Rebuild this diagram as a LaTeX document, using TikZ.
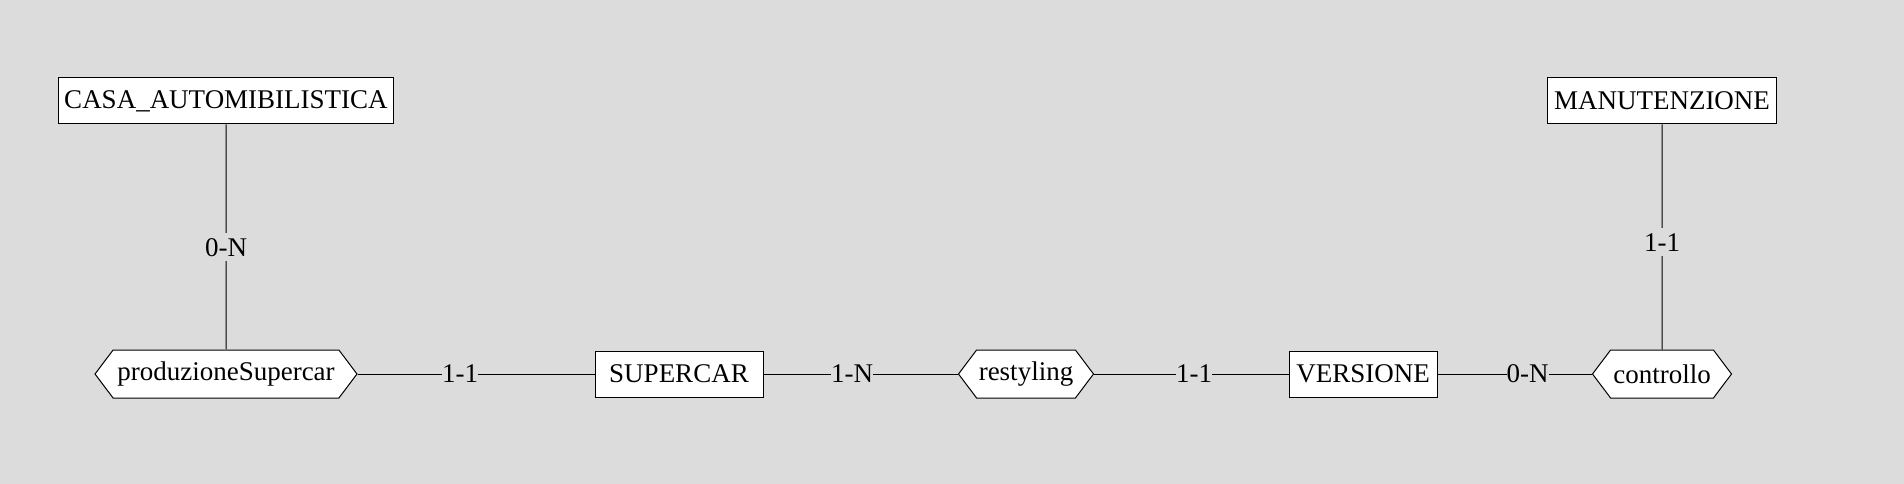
\documentclass[tikz,border=0pt]{standalone}
\usepackage{fontspec}
\setmainfont{Liberation Serif}
\usetikzlibrary{shapes.symbols}
\definecolor{bggray}{RGB}{220,220,220}
\tikzset{
  entity/.style={draw=black, fill=white, line width=1pt, rectangle, minimum height=46pt, inner sep=0pt, font=\fontsize{27}{32}\selectfont},
  relation/.style={draw=black, fill=white, line width=1pt, signal, signal to=west and east, signal pointer angle=106, minimum height=48pt, inner sep=0pt, font=\fontsize{27}{32}\selectfont},
  card/.style={fill=bggray, inner xsep=0pt, inner ysep=5pt, font=\fontsize{27}{32}\selectfont},
  link/.style={line width=1pt, draw=black}
}
\begin{document}
\begin{tikzpicture}[x=1pt,y=-1pt]
\fill[bggray] (0,0) rectangle (1904,484);
\useasboundingbox (0,0) rectangle (1904,484);

\node[entity, minimum width=335pt] (casa) at (226,101) {CASA\_AUTOMIBILISTICA};
\node[entity, minimum width=229pt] (manut) at (1662,101) {MANUTENZIONE};
\node[entity, minimum width=168pt] (supercar) at (679,374) {SUPERCAR};
\node[entity, minimum width=148pt] (versione) at (1363,374) {VERSIONE};

\node[relation, minimum width=262pt] (prod) at (226,374) {produzioneSupercar};
\node[relation, minimum width=135pt] (rest) at (1026,374) {restyling};
\node[relation, minimum width=139pt] (ctrl) at (1662,374) {controllo};

\draw[link] (casa) -- node[card, pos=0.546] {0-N} (prod);
\draw[link] (prod.east) -- node[card, pos=0.433] {1-1} (supercar);
\draw[link] (supercar) -- node[card, pos=0.456] {1-N} (rest.west);
\draw[link] (rest.east) -- node[card, pos=0.515] {1-1} (versione);
\draw[link] (versione) -- node[card, pos=0.583] {0-N} (ctrl.west);
\draw[link] (manut) -- node[card, pos=0.524] {1-1} (ctrl);
\end{tikzpicture}
\end{document}
